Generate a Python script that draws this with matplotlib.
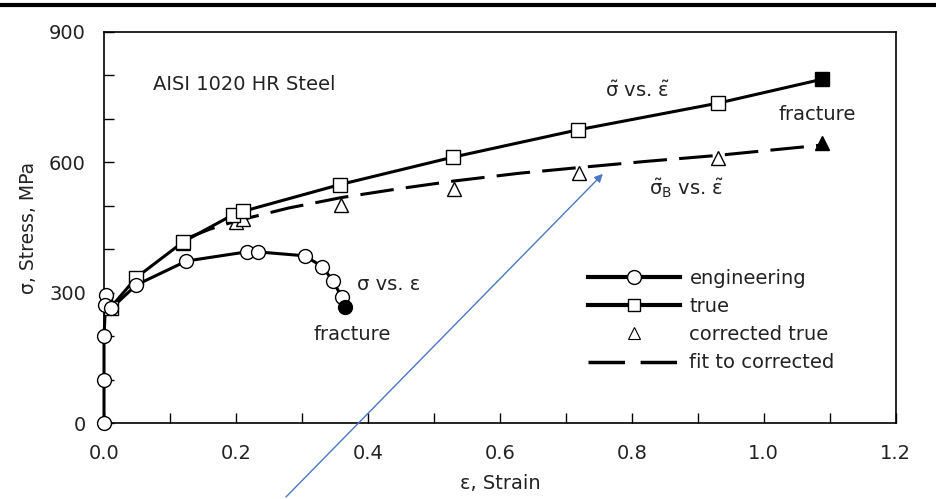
import matplotlib
matplotlib.use('Agg')
from matplotlib import pyplot as plt
from matplotlib.lines import Line2D
import numpy as np

plt.rcParams['font.family'] = ['DejaVu Sans']
plt.rcParams['mathtext.fontset'] = 'dejavusans'
plt.rcParams['mathtext.default'] = 'regular'

# engineering stress-strain (circles), last point = fracture
eng_strain = [0.0, 0.0, 0.0, 0.003, 0.002, 0.011, 0.049, 0.125, 0.216, 0.233, 0.304, 0.331, 0.347, 0.360]
eng_stress = [0, 100, 200, 295, 272, 264, 318, 373, 394, 394, 385, 360, 327, 291]
eng_frac = (0.366, 268)

# true stress-strain (squares)
true_strain = [0.002, 0.010, 0.049, 0.120, 0.195, 0.210, 0.358, 0.529, 0.719, 0.930]
true_stress = [272, 266, 335, 417, 479, 487, 549, 612, 675, 736]
true_frac = (1.088, 791)

# corrected true (triangles)
corr_strain = [0.120, 0.200, 0.210, 0.359, 0.530, 0.720, 0.930]
corr_stress = [415, 463, 470, 502, 538, 575, 609]
corr_frac = (1.088, 644)

# fit to corrected (dashed)
fit_strain = [0.12, 0.16, 0.20, 0.28, 0.36, 0.45, 0.53, 0.63, 0.72, 0.82, 0.93, 1.09]
fit_stress = [422, 446, 465, 495, 519, 540, 557, 575, 588, 602, 616, 640]

txt = '#222222'
fs = 14

fig = plt.figure(figsize=(9.37, 4.99), dpi=100)
ax = fig.add_axes([0.111, 0.152, 0.845, 0.784])

lw = 2.2
ax.plot(fit_strain, fit_stress, color='black', lw=lw, dashes=(11, 4), zorder=2)
ax.plot(true_strain + [true_frac[0]], true_stress + [true_frac[1]], color='black', lw=lw, zorder=3)
ax.plot(eng_strain + [eng_frac[0]], eng_stress + [eng_frac[1]], color='black', lw=lw, zorder=3,
        clip_on=False)

ax.plot(corr_strain, corr_stress, ls='none', marker='^', ms=10, mfc='white', mec='black', mew=1.0, zorder=4)
ax.plot(*corr_frac, ls='none', marker='^', ms=10, mfc='black', mec='black', zorder=4)
ax.plot(true_strain, true_stress, ls='none', marker='s', ms=10, mfc='white', mec='black', mew=1.0, zorder=5)
ax.plot(*true_frac, ls='none', marker='s', ms=10, mfc='black', mec='black', zorder=5)
ax.plot(eng_strain, eng_stress, ls='none', marker='o', ms=10, mfc='white', mec='black', mew=1.0, zorder=6,
        clip_on=False)
ax.plot(*eng_frac, ls='none', marker='o', ms=10, mfc='black', mec='black', zorder=6)

ax.set_xlim(0, 1.2)
ax.set_ylim(0, 900)
ax.set_xticks(np.arange(0, 1.21, 0.2))
ax.set_xticks(np.arange(0, 1.21, 0.1), minor=True)
ax.set_yticks([0, 300, 600, 900])
ax.set_yticks(np.arange(0, 901, 100), minor=True)
ax.set_xticklabels(['0.0', '0.2', '0.4', '0.6', '0.8', '1.0', '1.2'])
ax.tick_params(which='both', direction='in', length=7, width=1, colors='black',
               labelcolor=txt, labelsize=fs)
ax.tick_params(axis='x', pad=15)
ax.tick_params(axis='y', pad=13)
for s in ax.spines.values():
    s.set_linewidth(1.2)

ax.set_xlabel('ε, Strain', fontsize=fs, color=txt, labelpad=8)
ax.set_ylabel('σ, Stress, MPa', fontsize=13.5, color=txt, labelpad=8)

ax.text(0.074, 780, 'AISI 1020 HR Steel', fontsize=fs, color=txt, va='center')
ax.text(0.76, 765, r'$\tilde{\sigma}$ vs. $\tilde{\varepsilon}$', fontsize=fs, color=txt, va='center')
ax.text(1.022, 711, 'fracture', fontsize=fs, color=txt, va='center')
ax.text(0.826, 541, r'$\tilde{\sigma}_B$ vs. $\tilde{\varepsilon}$', fontsize=fs, color=txt, va='center')
ax.text(0.384, 318, 'σ vs. ε', fontsize=fs, color=txt, va='center')
ax.text(0.318, 205, 'fracture', fontsize=fs, color=txt, va='center')

handles = [
    Line2D([], [], color='black', lw=3, marker='o', ms=10, mfc='white', mec='black'),
    Line2D([], [], color='black', lw=3, marker='s', ms=9, mfc='white', mec='black'),
    Line2D([], [], ls='none', marker='^', ms=9, mfc='white', mec='black', mew=0.8),
    Line2D([], [], color='black', lw=2.5, dashes=(10.5, 4.5)),
]
labels = ['engineering', 'true', 'corrected true', 'fit to corrected']
ax.legend(handles, labels, loc='upper left', bbox_to_anchor=(0.611, 0.394), frameon=False,
          fontsize=fs, handlelength=4.73, handletextpad=0.5, labelspacing=0.47,
          borderpad=0, borderaxespad=0, numpoints=1, labelcolor=txt)

# heavy rule across top of page
fig.add_artist(Line2D([0, 1], [1 - 4.5 / 499, 1 - 4.5 / 499], color='black', lw=3,
                      transform=fig.transFigure))

# blue pointer arrow
ax.annotate('', xy=(0.759, 578), xycoords='data', xytext=(284 / 937, 0), textcoords='figure fraction',
            arrowprops=dict(arrowstyle='-|>', color='#4a78c2', lw=1, mutation_scale=12),
            annotation_clip=False)

fig.savefig('out.png', dpi=100)
